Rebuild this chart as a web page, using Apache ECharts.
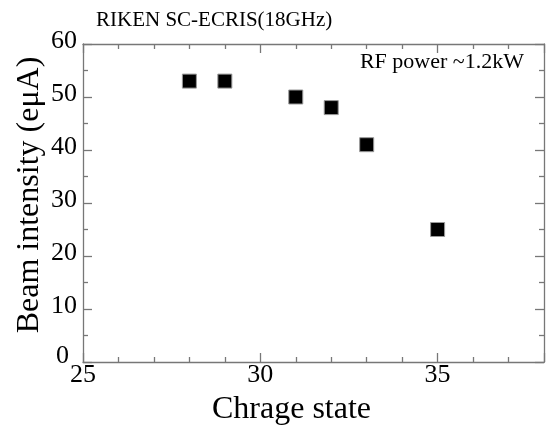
<!DOCTYPE html>
<html><head><meta charset="utf-8">
<script src="https://cdn.jsdelivr.net/npm/echarts@6/dist/echarts.min.js"></script>
<style>html,body{margin:0;padding:0;background:#fff}#c{width:547px;height:428px}</style>
</head><body><div id="c"></div>
<script>
const chargeStates = [28, 29, 31, 32, 33, 35];
const beamIntensity = [53, 53, 50, 48, 41, 25];
const titleText = 'RIKEN SC-ECRIS(18GHz)';
const noteText = 'RF power ~1.2kW';
const xName = 'Chrage state';
const yName = 'Beam intensity (eμA)';

const font = 'Liberation Serif';
const axisColor = '#777';
const chart = echarts.init(document.getElementById('c'));
const baseX = {type:'value', min:25, max:38, interval:5,
  axisLine:{show:true, onZero:false, lineStyle:{color:axisColor, width:1.3}},
  axisTick:{inside:true, length:9, lineStyle:{color:axisColor, width:1.3}},
  minorTick:{show:true, splitNumber:5, length:5, lineStyle:{color:axisColor, width:1.3}},
  splitLine:{show:false}};
const baseY = {type:'value', min:0, max:60, interval:10,
  axisLine:{show:true, onZero:false, lineStyle:{color:axisColor, width:1.3}},
  axisTick:{inside:true, length:9, lineStyle:{color:axisColor, width:1.3}},
  minorTick:{show:true, splitNumber:2, length:5, lineStyle:{color:axisColor, width:1.3}},
  splitLine:{show:false}};
chart.setOption({
  animation:false,
  backgroundColor:'#fff',
  grid:{left:83, right:3, top:44, bottom:66, containLabel:false, outerBoundsMode:'none'},
  title:{text:titleText, left:91, top:5, textStyle:{fontFamily:font, fontSize:21, fontWeight:'normal', color:'#000'}},
  graphic:[{type:'text', right:23, top:51, style:{text:noteText, font:'22px "Liberation Serif"', fill:'#000'}}],
  xAxis:[
    Object.assign({}, baseX, {position:'bottom', name:xName, nameLocation:'middle', nameGap:32,
      nameTextStyle:{fontFamily:font, fontSize:32, color:'#000', padding:[0,44,0,0]},
      axisLabel:{fontFamily:font, fontSize:26, color:'#000', margin:0,
        formatter:v=> (v===25||v===30||v===35)? String(v): ''}}),
    Object.assign({}, baseX, {position:'top', axisLabel:{show:false}})
  ],
  yAxis:[
    Object.assign({}, baseY, {position:'left', name:yName, nameLocation:'middle', nameGap:37,
      nameMoveOverlap:false,
      nameTextStyle:{fontFamily:font, fontSize:32, color:'#000', padding:[0,0,0,16]},
      axisLabel:{fontFamily:font, fontSize:26, color:'#000', margin:6,
        formatter:v=> v===0 ? '{z|0}' : String(v),
        padding:[0,0,6,0],
        rich:{z:{fontFamily:font, fontSize:26, color:'#000', padding:[0,8,6,0]}}}}),
    Object.assign({}, baseY, {position:'right', axisLabel:{show:false}})
  ],
  series:[{type:'scatter', xAxisIndex:0, yAxisIndex:0, symbol:'rect', symbolSize:14,
    itemStyle:{color:'#000', borderColor:'#999', borderWidth:1, opacity:1},
    data: chargeStates.map((x,i)=>[x, beamIntensity[i]])}]
});
</script></body></html>
